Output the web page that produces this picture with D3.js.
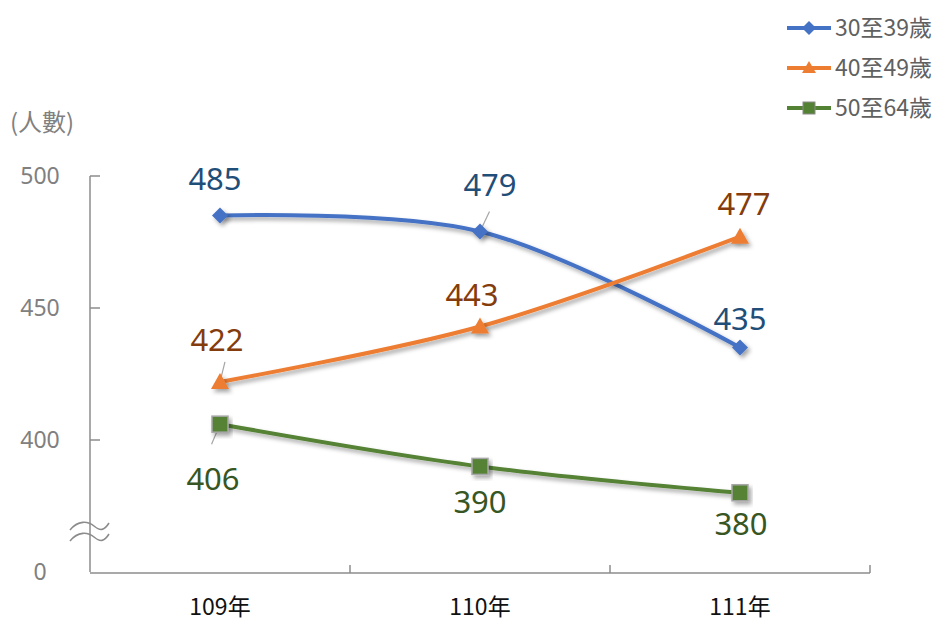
<!DOCTYPE html>
<html><head><meta charset="utf-8">
<script src="https://cdn.jsdelivr.net/npm/d3@7"></script>
<style>body{margin:0;background:#fff}svg{display:block}</style>
</head><body>
<script>
const categories = ["109年", "110年", "111年"];
const seriesNames = ["30至39歲", "40至49歲", "50至64歲"];
const s30 = [485, 479, 435];
const s40 = [422, 443, 477];
const s50 = [406, 390, 380];
const yTickValues = [500, 450, 400, 350];
const yTickLabels = ["500", "450", "400", "0"];
const yTitle = "(人數)";

const W = 944, H = 621;
const svg = d3.select("body").append("svg").attr("width", W).attr("height", H);
const defs = svg.append("defs");
const f = defs.append("filter").attr("id", "sh").attr("x", "-20%").attr("y", "-20%").attr("width", "150%").attr("height", "160%");
f.append("feDropShadow").attr("dx", 2.5).attr("dy", 3).attr("stdDeviation", 2).attr("flood-color", "#000").attr("flood-opacity", 0.35);

const x = d3.scaleBand().domain(categories).range([90, 870]);
const y = d3.scaleLinear().domain([350, 500]).range([572, 176]);
const cx = c => x(c) + x.bandwidth() / 2;

const axisColor = "#8c8c8c";
// y axis
svg.append("line").attr("x1", 90).attr("x2", 90).attr("y1", y(500)).attr("y2", y(350)).attr("stroke", axisColor).attr("stroke-width", 1.5);
yTickValues.forEach((v, i) => {
  if (v !== 350) svg.append("line").attr("x1", 90).attr("x2", 100).attr("y1", y(v)).attr("y2", y(v)).attr("stroke", axisColor).attr("stroke-width", 1.5);
  svg.append("text").attr("x", 40).attr("y", y(v)).attr("dy", "0.35em").attr("text-anchor", "middle")
    .attr("font-family", "Noto Sans").attr("font-size", 23).attr("fill", "#808080").text(yTickLabels[i]);
});
svg.append("text").attr("x", 42).attr("y", 123).attr("dy", "0.35em").attr("text-anchor", "middle")
  .attr("font-family", "Noto Sans CJK TC").attr("font-size", 24).attr("fill", "#808080").text(yTitle);
// break marks
[526, 537].forEach(by => {
  svg.append("path").attr("d", `M70,${by+4} C78,${by-6} 88,${by-5} 94,${by} S104,${by+5} 109,${by-3}`)
    .attr("fill", "none").attr("stroke", axisColor).attr("stroke-width", 1.6);
});
// x axis
svg.append("line").attr("x1", 90).attr("x2", 870).attr("y1", 573).attr("y2", 573).attr("stroke", axisColor).attr("stroke-width", 1.5);
[x(categories[1]), x(categories[2]), 870].forEach(tx => {
  svg.append("line").attr("x1", tx).attr("x2", tx).attr("y1", 573).attr("y2", 565).attr("stroke", axisColor).attr("stroke-width", 1.5);
});
categories.forEach(c => {
  svg.append("text").attr("x", cx(c)).attr("y", 607).attr("dy", "0.35em").attr("text-anchor", "middle")
    .attr("font-family", "Noto Sans CJK TC").attr("font-size", 23).attr("fill", "#111").text(c);
});

const line = d3.line().x((d, i) => cx(categories[i])).y(d => y(d)).curve(d3.curveCatmullRom.alpha(0.5));
const series = [
  {name: seriesNames[0], vals: s30, color: "#4472c4", lab: "#1f4e79", marker: "diamond",
   labOff: [[-5, -36], [10, -46], [0, -28]], leader: [false, true, false]},
  {name: seriesNames[1], vals: s40, color: "#ed7d31", lab: "#843c0c", marker: "triangle",
   labOff: [[-3, -42], [-8, -31], [4, -33]], leader: [true, false, false]},
  {name: seriesNames[2], vals: s50, color: "#548235", lab: "#375623", marker: "square",
   labOff: [[-7, 55], [0, 36], [1, 31]], leader: [true, false, false]}
];

function drawMarker(g, type, color, px, py) {
  if (type === "diamond") {
    g.append("path").attr("d", `M${px},${py-8} L${px+8},${py} L${px},${py+8} L${px-8},${py} Z`).attr("fill", color).attr("filter", "url(#sh)");
  } else if (type === "triangle") {
    g.append("path").attr("d", `M${px},${py-9} L${px+9},${py+7} L${px-9},${py+7} Z`).attr("fill", color).attr("filter", "url(#sh)");
  } else {
    g.append("rect").attr("x", px-8).attr("y", py-8).attr("width", 16).attr("height", 16).attr("fill", color)
      .attr("stroke", "#a6a6a6").attr("stroke-width", 1.5).attr("filter", "url(#sh)");
  }
}

series.forEach(s => {
  svg.append("path").datum(s.vals).attr("d", line).attr("fill", "none").attr("stroke", s.color)
    .attr("stroke-width", 4).attr("filter", "url(#sh)");
});
series.forEach(s => {
  s.vals.forEach((v, i) => {
    const px = cx(categories[i]), py = y(v);
    if (s.leader[i]) {
      const lx = px + s.labOff[i][0];
      const dir = s.labOff[i][1] < 0 ? -1 : 1;
      svg.append("line").attr("x1", px).attr("y1", py).attr("x2", px + (lx - px) * 0.35 + (dir < 0 ? 6 : -6)).attr("y2", py + dir * 20)
        .attr("stroke", "#a6a6a6").attr("stroke-width", 1.2);
    }
    drawMarker(svg, s.marker, s.color, px, py);
    svg.append("text").attr("x", px + s.labOff[i][0]).attr("y", py + s.labOff[i][1]).attr("dy", "0.35em")
      .attr("text-anchor", "middle").attr("font-family", "Noto Sans").attr("font-size", 31)
      .attr("fill", s.lab).text(v);
  });
});

// legend
series.forEach((s, i) => {
  const ly = 28 + i * 40;
  svg.append("line").attr("x1", 787).attr("x2", 831).attr("y1", ly).attr("y2", ly).attr("stroke", s.color).attr("stroke-width", 4);
  const g = svg.append("g");
  if (s.marker === "diamond") g.append("path").attr("d", `M809,${ly-7} L816,${ly} L809,${ly+7} L802,${ly} Z`).attr("fill", s.color);
  else if (s.marker === "triangle") g.append("path").attr("d", `M809,${ly-7} L816,${ly+5} L802,${ly+5} Z`).attr("fill", s.color);
  else g.append("rect").attr("x", 803).attr("y", ly-6).attr("width", 12).attr("height", 12).attr("fill", s.color).attr("stroke", "#8a8a8a").attr("stroke-width", 1);
  svg.append("text").attr("x", 835).attr("y", ly).attr("dy", "0.35em").attr("font-family", "Noto Sans CJK TC")
    .attr("font-size", 23).attr("fill", "#606060").text(s.name);
});
</script>
</body></html>
